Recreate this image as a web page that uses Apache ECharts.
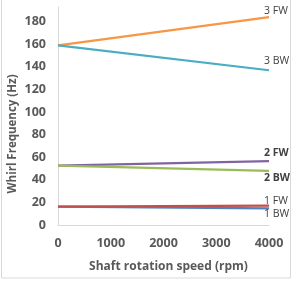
<!DOCTYPE html>
<html><head><meta charset="utf-8">
<script src="https://cdn.jsdelivr.net/npm/echarts@6/dist/echarts.min.js"></script>
<style>html,body{margin:0;padding:0;background:#fff}#c{width:295px;height:282px}</style>
</head><body><div id="c"></div>
<script>
const speeds = [0, 4000];
const xTicks = [0, 1000, 2000, 3000, 4000];
const yTicks = [0, 20, 40, 60, 80, 100, 120, 140, 160, 180];
const seriesNames = ['3 FW', '3 BW', '2 FW', '2 BW', '1 FW', '1 BW'];
const yTitle = 'Whirl Frequency (Hz)';
const xTitle = 'Shaft rotation speed (rpm)';
const fw3 = [159, 184];
const bw3 = [159, 137];
const fw2 = [52.5, 56.5];
const bw2 = [52.5, 48];
const fw1 = [16.2, 17.2];
const bw1 = [16.2, 14.8];
const colors = ['#F79646', '#4BACC6', '#8064A2', '#9BBB59', '#C0504D', '#4F81BD'];
const labelOffsets = [[-13, -6], [-13, -9], [-13, -8], [-13, 7], [-13, -5], [-13, 6]];
const labelBold = [false, false, true, true, false, false];
const allVals = [fw3, bw3, fw2, bw2, fw1, bw1];

const font = 'Open Sans';
const series = allVals.map((vals, i) => ({
  name: seriesNames[i],
  type: 'line',
  symbol: 'none',
  silent: true,
  lineStyle: { color: colors[i], width: 2.2 },
  z: i === 4 ? 3 : 2,
  endLabel: {
    show: true, formatter: seriesNames[i],
    offset: labelOffsets[i],
    color: '#404040', fontSize: 10.5, fontFamily: font,
    fontWeight: labelBold[i] ? 'bold' : 'normal'
  },
  data: vals.map((v, j) => [speeds[j], v])
}));

const chart = echarts.init(document.getElementById('c'), null, { renderer: 'canvas' });
chart.setOption({
  animation: false,
  backgroundColor: '#fff',
  grid: { left: 58, right: 26, top: 7, bottom: 57, containLabel: false, outerBoundsMode: 'none' },
  xAxis: {
    type: 'value', min: xTicks[0], max: xTicks[xTicks.length - 1], interval: 1000,
    name: xTitle, nameLocation: 'middle', nameGap: 36,
    nameTextStyle: { color: '#595959', fontSize: 12, fontWeight: 'bold', fontFamily: font, padding: [0, 0, 0, 10] },
    axisLine: { show: true, lineStyle: { color: '#D9D9D9', width: 1 } },
    axisTick: { show: false },
    splitLine: { show: false },
    axisLabel: { color: '#595959', fontSize: 12.5, fontWeight: 'bold', fontFamily: font, margin: 12,
      formatter: v => String(v) }
  },
  yAxis: {
    type: 'value', min: 0, max: 193, interval: 20,
    axisLine: { show: true, lineStyle: { color: '#D9D9D9', width: 1 } },
    axisTick: { show: false },
    splitLine: { show: false },
    axisLabel: { color: '#595959', fontSize: 12.5, fontWeight: 'bold', fontFamily: font, margin: 12, showMaxLabel: false,
      formatter: v => (yTicks.indexOf(v) >= 0 ? String(v) : '') }
  },
  graphic: [{
    type: 'rect', silent: true,
    shape: { x: 1.5, y: -5, width: 289, height: 283 },
    style: { fill: 'none', stroke: '#D9D9D9', lineWidth: 1 }
  }, {
    type: 'text', silent: true,
    x: 13, y: 134, rotation: Math.PI / 2,
    style: { text: yTitle, fill: '#595959', font: 'bold 11.5px "Open Sans"', align: 'center', verticalAlign: 'middle' }
  }],
  series: series
});
</script></body></html>
